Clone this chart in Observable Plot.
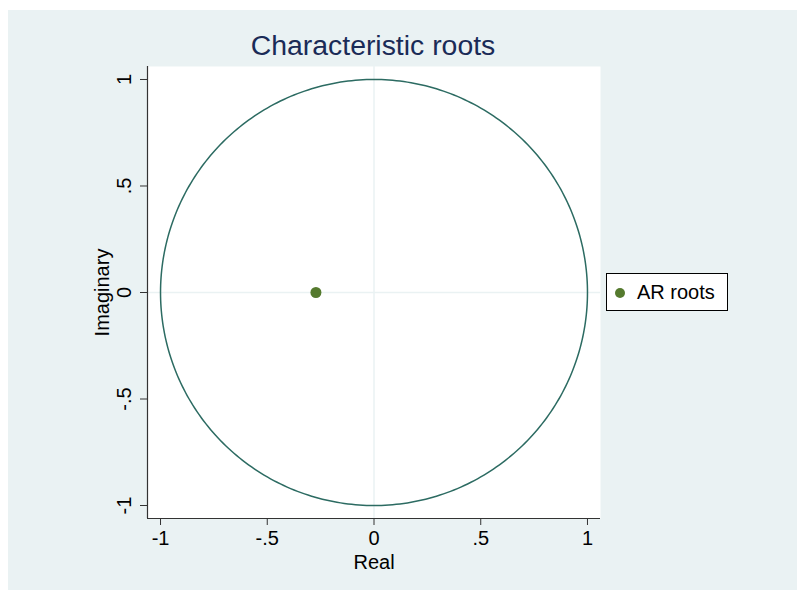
<!DOCTYPE html>
<html>
<head>
<meta charset="utf-8">
<script src="https://cdn.jsdelivr.net/npm/d3@7"></script>
<script src="https://cdn.jsdelivr.net/npm/@observablehq/plot@0.6"></script>
<style>
  html, body { margin: 0; padding: 0; background: #ffffff; }
  #wrap { position: relative; width: 805px; height: 590px; background: #ffffff; overflow: hidden;
          font-family: "Liberation Sans", Arial, Helvetica, sans-serif; }
  #panel { position: absolute; left: 8px; top: 10px; width: 789px; height: 580px; background: #eaf2f3; }
  #chart { position: absolute; left: 0; top: 0; }
  #title { position: absolute; left: 0; width: 746px; top: 27px; text-align: center;
           font-size: 28.4px; color: #1a2b57; line-height: 36px; }
  #legend { position: absolute; left: 606px; top: 273px; width: 120px; height: 36px;
            background: #ffffff; border: 1px solid #000000; }
  #legend .dot { position: absolute; left: 8px; top: 14px; width: 10px; height: 10px; border-radius: 50%; background: #557a2e; }
  #legend .lab { position: absolute; left: 30px; top: 6px; font-size: 20px; line-height: 24px; color: #000; }
</style>
</head>
<body>
<div id="wrap">
  <div id="panel"></div>
  <div id="chart"></div>
  <div id="title">Characteristic roots</div>
  <div id="legend"><div class="dot"></div><div class="lab">AR roots</div></div>
</div>
<script>
// Data
const titleText = "Characteristic roots";
const seriesName = "AR roots";
const realParts = [-0.272];
const imagParts = [0];
const tickValues = [-1, -0.5, 0, 0.5, 1];
const tickLabels = ["-1", "-.5", "0", ".5", "1"];
const xTitle = "Real";
const yTitle = "Imaginary";

const roots = realParts.map((re, i) => ({re, im: imagParts[i]}));
// unit circle reference (geometric definition)
const circle = d3.range(0, 361).map(a => ({re: Math.cos(a * Math.PI / 180), im: Math.sin(a * Math.PI / 180)}));
const lab = v => tickLabels[tickValues.indexOf(v)];
const ext = 1.061;

const chart = Plot.plot({
  width: 805,
  height: 590,
  marginLeft: 147,
  marginRight: 205,
  marginTop: 66,
  marginBottom: 72,
  style: {background: "transparent", fontFamily: "Liberation Sans, Arial, sans-serif", fontSize: "20px", color: "#000"},
  x: {domain: [-ext, ext], label: null},
  y: {domain: [-ext, ext], label: null},
  marks: [
    Plot.frame({fill: "#ffffff", stroke: null}),
    Plot.ruleX([0], {stroke: "#eaf2f3", strokeWidth: 1.5}),
    Plot.ruleY([0], {stroke: "#eaf2f3", strokeWidth: 1.5}),
    Plot.line(circle, {x: "re", y: "im", stroke: "#2c6b62", strokeWidth: 1.5}),
    Plot.dot(roots, {x: "re", y: "im", r: 5.5, fill: "#557a2e", stroke: null}),
    Plot.ruleX([-ext], {stroke: "#333", strokeWidth: 1.2}),
    Plot.ruleY([-ext], {stroke: "#333", strokeWidth: 1.2}),
    Plot.axisX({ticks: tickValues, tickSize: 7, tickPadding: 5, tickFormat: lab, fontSize: 20, stroke: "#333", label: null}),
    Plot.axisY({ticks: tickValues, tickSize: 7, tickFormat: () => "", stroke: "#333", label: null}),
    Plot.text(tickValues, {x: -ext, y: d => d, text: lab, rotate: -90, dx: -17, lineAnchor: "bottom", textAnchor: "middle", fontSize: 20, fill: "#000"}),
    Plot.text([xTitle], {frameAnchor: "bottom", dy: 50, lineAnchor: "bottom", textAnchor: "middle", fontSize: 20, fill: "#000"}),
    Plot.text([yTitle], {frameAnchor: "left", dx: -39, rotate: -90, lineAnchor: "bottom", textAnchor: "middle", fontSize: 20, fill: "#000"})
  ]
});
document.getElementById("chart").appendChild(chart);
document.getElementById("title").textContent = titleText;
document.querySelector("#legend .lab").textContent = seriesName;
</script>
</body>
</html>
